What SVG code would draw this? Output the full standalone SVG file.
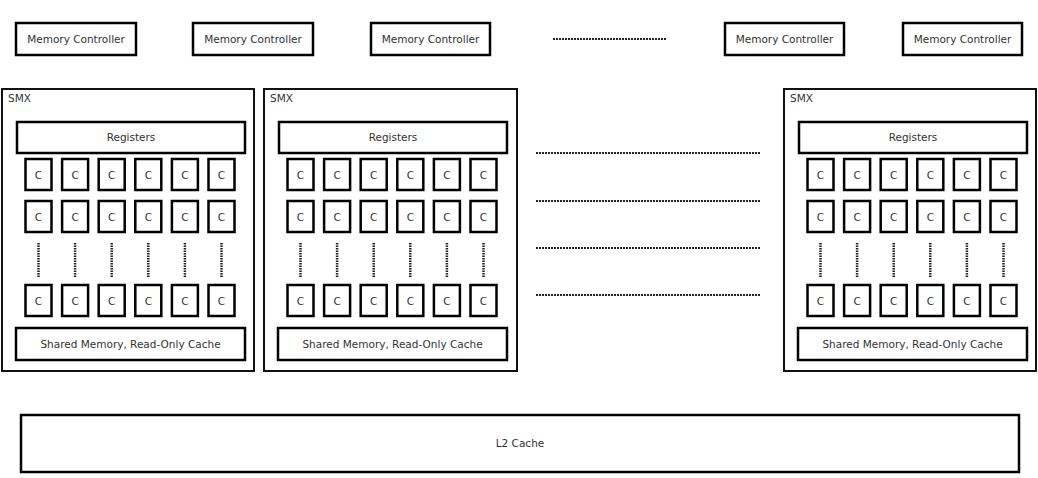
<svg xmlns="http://www.w3.org/2000/svg" width="1038" height="478" viewBox="0 0 1038 478">
<style>
.box{fill:#fff;stroke:#000;stroke-width:2.5}
.outer{fill:#fff;stroke:#111;stroke-width:2}
.t{font-family:"DejaVu Sans",sans-serif;font-size:10.5px;fill:#333;text-anchor:middle}
.lbl{font-family:"DejaVu Sans",sans-serif;font-size:10.5px;fill:#333}
.dotsH{stroke:#222;stroke-width:2;stroke-dasharray:2 1;fill:none}
.dotsV{stroke:#222;stroke-width:2.5;stroke-dasharray:1.5 1;fill:none}
</style>
<defs>
<g id="core"><rect class="box" x="1" y="1" width="26" height="31"/><text class="t" x="14" y="20.5">C</text></g>
<g id="coreRow">
<use href="#core" x="22.5"/><use href="#core" x="59.1"/><use href="#core" x="95.7"/><use href="#core" x="132.3"/><use href="#core" x="168.9"/><use href="#core" x="205.5"/>
</g>
</defs>
<rect width="1038" height="478" fill="#fff"/>

<g id="mc1"><rect class="box" x="16" y="23" width="120" height="32"/><text class="t" x="76" y="43">Memory Controller</text></g>
<g id="mc2"><rect class="box" x="193" y="23" width="120" height="32"/><text class="t" x="253" y="43">Memory Controller</text></g>
<g id="mc3"><rect class="box" x="371" y="23" width="119" height="32"/><text class="t" x="430.5" y="43">Memory Controller</text></g>
<g id="mc4"><rect class="box" x="725" y="23" width="119" height="32"/><text class="t" x="784.5" y="43">Memory Controller</text></g>
<g id="mc5"><rect class="box" x="903" y="23" width="119" height="32"/><text class="t" x="962.5" y="43">Memory Controller</text></g>

<g id="smx1" transform="translate(2,0)">
<rect class="outer" x="0" y="89" width="252" height="282"/>
<text class="lbl" x="6" y="102">SMX</text>
<rect class="box" x="15" y="122" width="228" height="31"/><text class="t" x="129" y="141">Registers</text>
<use href="#coreRow" y="158"/><use href="#coreRow" y="200"/><use href="#coreRow" y="284"/>
<path class="dotsV" d="M36.5 243V277M73.1 243V277M109.7 243V277M146.3 243V277M182.9 243V277M219.5 243V277"/>
<rect class="box" x="14" y="328" width="229" height="32"/><text class="t" x="128.5" y="348">Shared Memory, Read-Only Cache</text>
</g>

<g id="smx2" transform="translate(264,0)">
<rect class="outer" x="0" y="89" width="253" height="282"/>
<text class="lbl" x="6" y="102">SMX</text>
<rect class="box" x="15" y="122" width="228" height="31"/><text class="t" x="129" y="141">Registers</text>
<use href="#coreRow" y="158"/><use href="#coreRow" y="200"/><use href="#coreRow" y="284"/>
<path class="dotsV" d="M36.5 243V277M73.1 243V277M109.7 243V277M146.3 243V277M182.9 243V277M219.5 243V277"/>
<rect class="box" x="14" y="328" width="229" height="32"/><text class="t" x="128.5" y="348">Shared Memory, Read-Only Cache</text>
</g>

<g id="smx3" transform="translate(784,0)">
<rect class="outer" x="0" y="89" width="252" height="282"/>
<text class="lbl" x="6" y="102">SMX</text>
<rect class="box" x="15" y="122" width="228" height="31"/><text class="t" x="129" y="141">Registers</text>
<use href="#coreRow" y="158"/><use href="#coreRow" y="200"/><use href="#coreRow" y="284"/>
<path class="dotsV" d="M36.5 243V277M73.1 243V277M109.7 243V277M146.3 243V277M182.9 243V277M219.5 243V277"/>
<rect class="box" x="14" y="328" width="229" height="32"/><text class="t" x="128.5" y="348">Shared Memory, Read-Only Cache</text>
</g>

<g id="connectors">
<path class="dotsH" d="M553 39H666"/>
<path class="dotsH" d="M536 153H760M536 201H760M536 248H760M536 295H760"/>
</g>

<g id="l2"><rect class="box" x="21" y="415" width="998" height="57"/><text class="t" x="520" y="447">L2 Cache</text></g>
</svg>
